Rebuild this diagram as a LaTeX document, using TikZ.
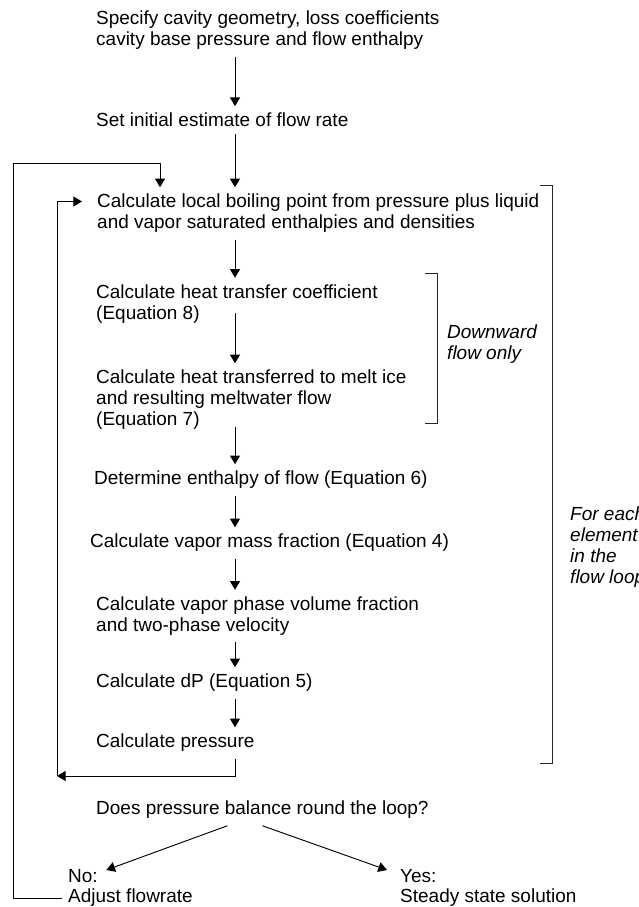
\documentclass[tikz,border=0pt]{standalone}
\usepackage{fontspec}
\setmainfont{Liberation Sans}
\usetikzlibrary{arrows.meta}

\begin{document}
\begin{tikzpicture}[
    every node/.append style={font=\fontsize{16.2}{17.9}\selectfont},
  ]

  \tikzset{
    flow-step/.style={anchor=west, align=left, inner xsep=0pt, inner ysep=0.2cm},
    answer/.style={anchor=west, inner sep=0pt},
    flow-arrow/.style={
      -{Triangle[length=0.26cm, width=0.3cm]},
      line width=0.8pt,
    },
    side-bracket/.style={line width=0.6pt, draw=black!85},
    sidenote/.style={
      anchor=west, align=left, inner sep=0pt,
      font=\fontsize{16.2}{17.9}\selectfont\itshape,
    },
  }

  \useasboundingbox (0, 0) rectangle (19.17, -27.21);

  %% ---------------- SETUP ----------------
  \node[flow-step] (spec) at (2.88, -0.915)
    {Specify cavity geometry, loss coefficients\\cavity base pressure and flow enthalpy};
  \node[flow-step] (init) at (2.88, -3.6) {Set initial estimate of flow rate};

  %% ---------------- ELEMENT LOOP ----------------
  \node[flow-step] (boil) at (2.91, -6.405)
    {Calculate local boiling point from pressure plus liquid\\and vapor saturated enthalpies and densities};
  \node[flow-step] (htc) at (2.88, -9.12)
    {Calculate heat transfer coefficient\\(Equation 8)};
  \node[flow-step] (melt) at (2.88, -12.0)
    {Calculate heat transferred to melt ice\\and resulting meltwater flow\\(Equation 7)};
  \node[flow-step] (enth) at (2.82, -14.4) {Determine enthalpy of flow (Equation 6)};
  \node[flow-step] (vmf) at (2.70, -16.29) {Calculate vapor mass fraction (Equation 4)};
  \node[flow-step] (vpvf) at (2.88, -18.48)
    {Calculate vapor phase volume fraction\\and two-phase velocity};
  \node[flow-step] (dp) at (2.88, -20.49) {Calculate dP (Equation 5)};
  \node[flow-step] (pres) at (2.88, -22.29) {Calculate pressure};

  %% ---------------- BALANCE CHECK ----------------
  \node[flow-step] (bal) at (2.88, -24.3) {Does pressure balance round the loop?};
  \node[answer] (no) at (2.04, -26.28) {No:};
  \node[answer] (adjust) at (2.04, -26.94) {Adjust flowrate};
  \node[answer] (yes) at (12.0, -26.28) {Yes:};
  \node[answer] (steady) at (12.0, -26.94) {Steady state solution};

  %% ---------------- BRACKETS ----------------
  % downward flow only
  \draw[side-bracket] (12.75, -8.19) -- (13.11, -8.19) -- (13.11, -12.69) -- (12.75, -12.69);
  \node[sidenote] (note-down) at (13.41, -10.32) {Downward\\flow only};
  % every element
  \draw[side-bracket] (16.2, -5.55) -- (16.56, -5.55) -- (16.56, -22.89) -- (16.2, -22.89);
  \node[sidenote] (note-each) at (17.1, -16.41) {For each\\element\\in the\\flow loop};

  %% ---------------- CONNECTORS ----------------
  \coordinate (col) at (7.05, 0);
  \draw[flow-arrow] (spec.south -| col) -- (init.north -| col);
  \draw[flow-arrow] (init.south -| col) -- (boil.north -| col);
  \draw[flow-arrow] (boil.south -| col) -- (htc.north -| col);
  \draw[flow-arrow] ([yshift=0.52cm]htc.south -| col) -- (melt.north -| col);
  \draw[flow-arrow] ([yshift=0.3cm]melt.south -| col) -- (enth.north -| col);
  \draw[flow-arrow] (enth.south -| col) -- (vmf.north -| col);
  \draw[flow-arrow] (vmf.south -| col) -- (vpvf.north -| col);
  \draw[flow-arrow] (vpvf.south -| col) -- (dp.north -| col);
  \draw[flow-arrow] (dp.south -| col) -- (pres.north -| col);

  % inner loop, back to the next element
  \coordinate (inner-corner) at (1.71, -23.28);
  \draw[flow-arrow] (pres.south -| col) |- (inner-corner);
  \draw[flow-arrow] (inner-corner) |- ([xshift=-0.45cm, yshift=0.36cm]boil.west);

  % outer loop, new flow rate
  \coordinate (outer-corner) at (0.39, -4.89);
  \coordinate (reentry) at (4.8, -4.89);
  \draw[flow-arrow] ([xshift=-0.18cm]adjust.west) -| (outer-corner) -- (reentry)
    -- (reentry |- boil.north);

  % answers
  \draw[flow-arrow] ([xshift=-1.05cm]bal.south) -- ([xshift=0.25cm, yshift=0.18cm]no.east);
  \draw[flow-arrow] (bal.south) -- ([xshift=-0.39cm, yshift=0.18cm]yes.west);

\end{tikzpicture}
\end{document}
